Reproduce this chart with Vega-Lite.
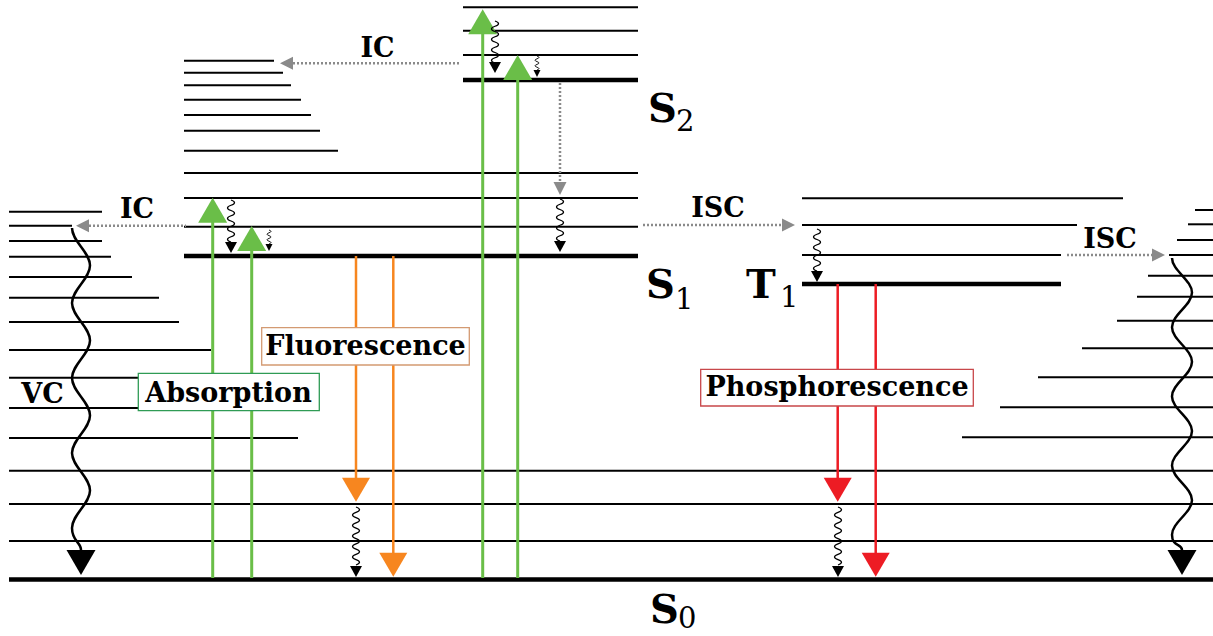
{
  "$schema": "https://vega.github.io/schema/vega-lite/v6.json",
  "width": 1213,
  "height": 636,
  "autosize": {"type": "none"},
  "padding": 0,
  "background": "white",
  "config": {"view": {"stroke": null}},
  "datasets": {
    "thin": [
      {"x": 9, "x2": 102, "y": 211.7}, {"x": 9, "x2": 72, "y": 225.7}, {"x": 9, "x2": 102, "y": 241},
      {"x": 9, "x2": 111, "y": 256.7}, {"x": 9, "x2": 132, "y": 277}, {"x": 9, "x2": 159, "y": 297.7},
      {"x": 9, "x2": 179, "y": 322}, {"x": 9, "x2": 211, "y": 350}, {"x": 9, "x2": 240, "y": 377.7},
      {"x": 9, "x2": 270, "y": 408}, {"x": 9, "x2": 298, "y": 438},
      {"x": 9, "x2": 1213, "y": 470.7}, {"x": 9, "x2": 1213, "y": 504}, {"x": 9, "x2": 1213, "y": 541},
      {"x": 184, "x2": 274, "y": 60.7}, {"x": 184, "x2": 283, "y": 72.7}, {"x": 184, "x2": 291, "y": 85.3},
      {"x": 184, "x2": 301, "y": 99.7}, {"x": 184, "x2": 311, "y": 115}, {"x": 184, "x2": 320, "y": 130.7},
      {"x": 184, "x2": 338, "y": 150.7}, {"x": 184, "x2": 638, "y": 173}, {"x": 184, "x2": 638, "y": 198},
      {"x": 184, "x2": 638, "y": 226.7},
      {"x": 463, "x2": 638, "y": 7.3}, {"x": 463, "x2": 638, "y": 30.7}, {"x": 463, "x2": 638, "y": 55},
      {"x": 802, "x2": 1123, "y": 198.3}, {"x": 802, "x2": 1077, "y": 225}, {"x": 802, "x2": 1061, "y": 255},
      {"x": 1195, "x2": 1213, "y": 210}, {"x": 1188, "x2": 1213, "y": 224.3}, {"x": 1177, "x2": 1213, "y": 240},
      {"x": 1169, "x2": 1213, "y": 255}, {"x": 1148, "x2": 1213, "y": 275.7}, {"x": 1137, "x2": 1213, "y": 296.7},
      {"x": 1117, "x2": 1213, "y": 320.7}, {"x": 1082, "x2": 1213, "y": 348.3}, {"x": 1038, "x2": 1213, "y": 377.3},
      {"x": 1000, "x2": 1213, "y": 407.3}, {"x": 962, "x2": 1213, "y": 437.3}
    ],
    "thick": [
      {"x": 9, "x2": 1213, "y": 579.5}, {"x": 184, "x2": 638, "y": 256},
      {"x": 463, "x2": 638, "y": 80}, {"x": 802, "x2": 1061, "y": 284}
    ],
    "dottedH": [
      {"x": 293, "x2": 460, "y": 63.3}, {"x": 89, "x2": 186, "y": 225.7},
      {"x": 643, "x2": 782, "y": 225}, {"x": 1067, "x2": 1152, "y": 255}
    ],
    "dottedV": [{"x": 560, "y": 83, "y2": 182}],
    "green": [
      {"x": 212.7, "y": 578, "y2": 221}, {"x": 251.7, "y": 578, "y2": 250},
      {"x": 482.7, "y": 578, "y2": 33}, {"x": 517.7, "y": 578, "y2": 79}
    ],
    "orange": [{"x": 356, "y": 256, "y2": 479}, {"x": 393.3, "y": 256, "y2": 553}],
    "red": [{"x": 837.7, "y": 284, "y2": 480}, {"x": 875.7, "y": 284, "y2": 553}],
    "greenTips": [{"x": 212.7, "y": 197.7}, {"x": 251.7, "y": 226}, {"x": 482.7, "y": 9.3}, {"x": 517.7, "y": 55}],
    "orangeTips": [{"x": 356, "y": 501.7}, {"x": 393.3, "y": 576.7}],
    "redTips": [{"x": 837.7, "y": 501.7}, {"x": 875.7, "y": 576.7}],
    "bigTips": [{"x": 81, "y": 575}, {"x": 1182, "y": 575}],
    "smallTips": [{"x": 231, "y": 253}, {"x": 495, "y": 73}, {"x": 560, "y": 252}, {"x": 817, "y": 282}, {"x": 356, "y": 577}, {"x": 838, "y": 577}],
    "tinyTips": [{"x": 269, "y": 251}, {"x": 537, "y": 77}],
    "grayLeft": [{"x": 280, "y": 63.3}, {"x": 76, "y": 225.7}],
    "grayRight": [{"x": 795, "y": 225}, {"x": 1165, "y": 255}],
    "grayDown": [{"x": 560, "y": 195}],
    "vcLeft": [{"x": 81, "y": 228}],
    "vcRight": [{"x": 1182, "y": 258}],
    "wave42": [{"x": 231, "y": 200}, {"x": 495, "y": 21}, {"x": 560, "y": 199}, {"x": 817, "y": 229}],
    "wave58": [{"x": 356, "y": 507}, {"x": 838, "y": 507}],
    "wave14": [{"x": 269, "y": 230}, {"x": 537, "y": 56}],
    "boxes": [
      {"process": "Absorption", "x": 138.3, "x2": 319.3, "y": 373.3, "y2": 410.7},
      {"process": "Fluorescence", "x": 261.7, "x2": 469.3, "y": 327.7, "y2": 365},
      {"process": "Phosphorescence", "x": 700.7, "x2": 973.3, "y": 369.3, "y2": 406}
    ],
    "boxLabels": [
      {"label": "Absorption", "x": 228.5, "y": 402},
      {"label": "Fluorescence", "x": 365.5, "y": 355},
      {"label": "Phosphorescence", "x": 837, "y": 396}
    ],
    "procLabels": [
      {"label": "IC", "x": 377.5, "y": 57}, {"label": "IC", "x": 137, "y": 218},
      {"label": "ISC", "x": 718, "y": 217}, {"label": "ISC", "x": 1110, "y": 248},
      {"label": "VC", "x": 42.5, "y": 403}
    ],
    "states": [
      {"label": "S", "x": 648, "y": 122}, {"label": "S", "x": 646, "y": 298},
      {"label": "T", "x": 746, "y": 298}, {"label": "S", "x": 650, "y": 623}
    ],
    "subs": [
      {"label": "2", "x": 676, "y": 131}, {"label": "1", "x": 675, "y": 309},
      {"label": "1", "x": 780, "y": 307}, {"label": "0", "x": 678, "y": 628}
    ]
  },
  "layer": [
    {
      "data": {"name": "thin"},
      "mark": {"type": "rule", "color": "black", "strokeWidth": 2},
      "encoding": {
        "x": {"field": "x", "type": "quantitative", "scale": {"domain": [0, 1213], "nice": false, "zero": false}, "axis": null},
        "x2": {"field": "x2"},
        "y": {"field": "y", "type": "quantitative", "scale": {"domain": [0, 636], "nice": false, "zero": false, "reverse": true}, "axis": null}
      }
    },
    {
      "data": {"name": "thick"},
      "mark": {"type": "rule", "color": "black", "strokeWidth": 4.5},
      "encoding": {
        "x": {"field": "x", "type": "quantitative", "scale": {"domain": [0, 1213], "nice": false, "zero": false}, "axis": null},
        "x2": {"field": "x2"},
        "y": {"field": "y", "type": "quantitative", "scale": {"domain": [0, 636], "nice": false, "zero": false, "reverse": true}, "axis": null}
      }
    },
    {
      "data": {"name": "dottedH"},
      "mark": {"type": "rule", "color": "#8a8a8a", "strokeWidth": 2.5, "strokeDash": [2, 2]},
      "encoding": {
        "x": {"field": "x", "type": "quantitative", "scale": {"domain": [0, 1213], "nice": false, "zero": false}, "axis": null},
        "x2": {"field": "x2"},
        "y": {"field": "y", "type": "quantitative", "scale": {"domain": [0, 636], "nice": false, "zero": false, "reverse": true}, "axis": null}
      }
    },
    {
      "data": {"name": "dottedV"},
      "mark": {"type": "rule", "color": "#8a8a8a", "strokeWidth": 2.5, "strokeDash": [2, 2]},
      "encoding": {
        "x": {"field": "x", "type": "quantitative", "scale": {"domain": [0, 1213], "nice": false, "zero": false}, "axis": null},
        "y": {"field": "y", "type": "quantitative", "scale": {"domain": [0, 636], "nice": false, "zero": false, "reverse": true}, "axis": null},
        "y2": {"field": "y2"}
      }
    },
    {
      "data": {"name": "green"},
      "mark": {"type": "rule", "color": "#6abe48", "strokeWidth": 3},
      "encoding": {
        "x": {"field": "x", "type": "quantitative", "scale": {"domain": [0, 1213], "nice": false, "zero": false}, "axis": null},
        "y": {"field": "y", "type": "quantitative", "scale": {"domain": [0, 636], "nice": false, "zero": false, "reverse": true}, "axis": null},
        "y2": {"field": "y2"}
      }
    },
    {
      "data": {"name": "orange"},
      "mark": {"type": "rule", "color": "#f7861f", "strokeWidth": 2.5},
      "encoding": {
        "x": {"field": "x", "type": "quantitative", "scale": {"domain": [0, 1213], "nice": false, "zero": false}, "axis": null},
        "y": {"field": "y", "type": "quantitative", "scale": {"domain": [0, 636], "nice": false, "zero": false, "reverse": true}, "axis": null},
        "y2": {"field": "y2"}
      }
    },
    {
      "data": {"name": "red"},
      "mark": {"type": "rule", "color": "#ed1c24", "strokeWidth": 2.5},
      "encoding": {
        "x": {"field": "x", "type": "quantitative", "scale": {"domain": [0, 1213], "nice": false, "zero": false}, "axis": null},
        "y": {"field": "y", "type": "quantitative", "scale": {"domain": [0, 636], "nice": false, "zero": false, "reverse": true}, "axis": null},
        "y2": {"field": "y2"}
      }
    },
    {
      "data": {"name": "greenTips"},
      "mark": {"type": "point", "shape": "M0,0 L14.5,25 L-14.5,25 Z", "size": 4, "filled": true, "color": "#6abe48", "opacity": 1, "strokeWidth": 0},
      "encoding": {
        "x": {"field": "x", "type": "quantitative", "scale": {"domain": [0, 1213], "nice": false, "zero": false}, "axis": null},
        "y": {"field": "y", "type": "quantitative", "scale": {"domain": [0, 636], "nice": false, "zero": false, "reverse": true}, "axis": null}
      }
    },
    {
      "data": {"name": "orangeTips"},
      "mark": {"type": "point", "shape": "M0,0 L-14,-24 L14,-24 Z", "size": 4, "filled": true, "color": "#f7861f", "opacity": 1, "strokeWidth": 0},
      "encoding": {
        "x": {"field": "x", "type": "quantitative", "scale": {"domain": [0, 1213], "nice": false, "zero": false}, "axis": null},
        "y": {"field": "y", "type": "quantitative", "scale": {"domain": [0, 636], "nice": false, "zero": false, "reverse": true}, "axis": null}
      }
    },
    {
      "data": {"name": "redTips"},
      "mark": {"type": "point", "shape": "M0,0 L-14,-24 L14,-24 Z", "size": 4, "filled": true, "color": "#ed1c24", "opacity": 1, "strokeWidth": 0},
      "encoding": {
        "x": {"field": "x", "type": "quantitative", "scale": {"domain": [0, 1213], "nice": false, "zero": false}, "axis": null},
        "y": {"field": "y", "type": "quantitative", "scale": {"domain": [0, 636], "nice": false, "zero": false, "reverse": true}, "axis": null}
      }
    },
    {
      "data": {"name": "bigTips"},
      "mark": {"type": "point", "shape": "M0,0 L-14.5,-25 L14.5,-25 Z", "size": 4, "filled": true, "color": "black", "opacity": 1, "strokeWidth": 0},
      "encoding": {
        "x": {"field": "x", "type": "quantitative", "scale": {"domain": [0, 1213], "nice": false, "zero": false}, "axis": null},
        "y": {"field": "y", "type": "quantitative", "scale": {"domain": [0, 636], "nice": false, "zero": false, "reverse": true}, "axis": null}
      }
    },
    {
      "data": {"name": "smallTips"},
      "mark": {"type": "point", "shape": "M0,0 L-6,-11 L6,-11 Z", "size": 4, "filled": true, "color": "black", "opacity": 1, "strokeWidth": 0},
      "encoding": {
        "x": {"field": "x", "type": "quantitative", "scale": {"domain": [0, 1213], "nice": false, "zero": false}, "axis": null},
        "y": {"field": "y", "type": "quantitative", "scale": {"domain": [0, 636], "nice": false, "zero": false, "reverse": true}, "axis": null}
      }
    },
    {
      "data": {"name": "tinyTips"},
      "mark": {"type": "point", "shape": "M0,0 L-3.5,-7 L3.5,-7 Z", "size": 4, "filled": true, "color": "black", "opacity": 1, "strokeWidth": 0},
      "encoding": {
        "x": {"field": "x", "type": "quantitative", "scale": {"domain": [0, 1213], "nice": false, "zero": false}, "axis": null},
        "y": {"field": "y", "type": "quantitative", "scale": {"domain": [0, 636], "nice": false, "zero": false, "reverse": true}, "axis": null}
      }
    },
    {
      "data": {"name": "grayLeft"},
      "mark": {"type": "point", "shape": "M0,0 L13,-6.5 L13,6.5 Z", "size": 4, "filled": true, "color": "#8a8a8a", "opacity": 1, "strokeWidth": 0},
      "encoding": {
        "x": {"field": "x", "type": "quantitative", "scale": {"domain": [0, 1213], "nice": false, "zero": false}, "axis": null},
        "y": {"field": "y", "type": "quantitative", "scale": {"domain": [0, 636], "nice": false, "zero": false, "reverse": true}, "axis": null}
      }
    },
    {
      "data": {"name": "grayRight"},
      "mark": {"type": "point", "shape": "M0,0 L-13,-6.5 L-13,6.5 Z", "size": 4, "filled": true, "color": "#8a8a8a", "opacity": 1, "strokeWidth": 0},
      "encoding": {
        "x": {"field": "x", "type": "quantitative", "scale": {"domain": [0, 1213], "nice": false, "zero": false}, "axis": null},
        "y": {"field": "y", "type": "quantitative", "scale": {"domain": [0, 636], "nice": false, "zero": false, "reverse": true}, "axis": null}
      }
    },
    {
      "data": {"name": "grayDown"},
      "mark": {"type": "point", "shape": "M0,0 L-6.5,-13 L6.5,-13 Z", "size": 4, "filled": true, "color": "#8a8a8a", "opacity": 1, "strokeWidth": 0},
      "encoding": {
        "x": {"field": "x", "type": "quantitative", "scale": {"domain": [0, 1213], "nice": false, "zero": false}, "axis": null},
        "y": {"field": "y", "type": "quantitative", "scale": {"domain": [0, 636], "nice": false, "zero": false, "reverse": true}, "axis": null}
      }
    },
    {
      "data": {"name": "vcLeft"},
      "mark": {"type": "point", "shape": "M-9,0 C-9,13.5 9,24 9,37.5 S-9,61.5 -9,75 S9,99 9,112.5 S-9,136.5 -9,150 S9,174 9,187.5 S-9,211.5 -9,225 S9,249 9,262.5 S-9,286.5 -9,300 S0,314 0,322", "size": 4, "filled": false, "color": "black", "strokeWidth": 2.5, "opacity": 1},
      "encoding": {
        "x": {"field": "x", "type": "quantitative", "scale": {"domain": [0, 1213], "nice": false, "zero": false}, "axis": null},
        "y": {"field": "y", "type": "quantitative", "scale": {"domain": [0, 636], "nice": false, "zero": false, "reverse": true}, "axis": null}
      }
    },
    {
      "data": {"name": "vcRight"},
      "mark": {"type": "point", "shape": "M-10,0 C-10,12.5 10,22.1 10,34.6 S-10,56.7 -10,69.2 S10,91.3 10,103.8 S-10,125.9 -10,138.4 S10,160.5 10,173 S-10,195.1 -10,207.6 S10,229.7 10,242.2 S-10,264.3 -10,276.8 S0,285 0,292", "size": 4, "filled": false, "color": "black", "strokeWidth": 2.5, "opacity": 1},
      "encoding": {
        "x": {"field": "x", "type": "quantitative", "scale": {"domain": [0, 1213], "nice": false, "zero": false}, "axis": null},
        "y": {"field": "y", "type": "quantitative", "scale": {"domain": [0, 636], "nice": false, "zero": false, "reverse": true}, "axis": null}
      }
    },
    {
      "data": {"name": "wave42"},
      "mark": {"type": "point", "shape": "M0,0 Q7,2.625 0,5.25 T0,10.5 T0,15.75 T0,21 T0,26.25 T0,31.5 T0,36.75 T0,42", "size": 4, "filled": false, "color": "black", "strokeWidth": 1.3, "opacity": 1},
      "encoding": {
        "x": {"field": "x", "type": "quantitative", "scale": {"domain": [0, 1213], "nice": false, "zero": false}, "axis": null},
        "y": {"field": "y", "type": "quantitative", "scale": {"domain": [0, 636], "nice": false, "zero": false, "reverse": true}, "axis": null}
      }
    },
    {
      "data": {"name": "wave58"},
      "mark": {"type": "point", "shape": "M0,0 Q7,2.636 0,5.273 T0,10.545 T0,15.818 T0,21.091 T0,26.364 T0,31.636 T0,36.909 T0,42.182 T0,47.455 T0,52.727 T0,58", "size": 4, "filled": false, "color": "black", "strokeWidth": 1.3, "opacity": 1},
      "encoding": {
        "x": {"field": "x", "type": "quantitative", "scale": {"domain": [0, 1213], "nice": false, "zero": false}, "axis": null},
        "y": {"field": "y", "type": "quantitative", "scale": {"domain": [0, 636], "nice": false, "zero": false, "reverse": true}, "axis": null}
      }
    },
    {
      "data": {"name": "wave14"},
      "mark": {"type": "point", "shape": "M0,0 Q4,1.4 0,2.8 T0,5.6 T0,8.4 T0,11.2 T0,14", "size": 4, "filled": false, "color": "black", "strokeWidth": 0.9, "opacity": 1},
      "encoding": {
        "x": {"field": "x", "type": "quantitative", "scale": {"domain": [0, 1213], "nice": false, "zero": false}, "axis": null},
        "y": {"field": "y", "type": "quantitative", "scale": {"domain": [0, 636], "nice": false, "zero": false, "reverse": true}, "axis": null}
      }
    },
    {
      "data": {"name": "boxes"},
      "mark": {"type": "rect", "fill": "white", "strokeWidth": 1.3},
      "encoding": {
        "x": {"field": "x", "type": "quantitative", "scale": {"domain": [0, 1213], "nice": false, "zero": false}, "axis": null},
        "x2": {"field": "x2"},
        "y": {"field": "y", "type": "quantitative", "scale": {"domain": [0, 636], "nice": false, "zero": false, "reverse": true}, "axis": null},
        "y2": {"field": "y2"},
        "stroke": {"field": "process", "type": "nominal", "scale": {"domain": ["Absorption", "Fluorescence", "Phosphorescence"], "range": ["#2f9b55", "#d39a72", "#c8474a"]}, "legend": null}
      }
    },
    {
      "data": {"name": "boxLabels"},
      "mark": {"type": "text", "font": "DejaVu Serif", "fontWeight": "bold", "fontSize": 27, "align": "center", "baseline": "alphabetic", "color": "black"},
      "encoding": {
        "x": {"field": "x", "type": "quantitative", "scale": {"domain": [0, 1213], "nice": false, "zero": false}, "axis": null},
        "y": {"field": "y", "type": "quantitative", "scale": {"domain": [0, 636], "nice": false, "zero": false, "reverse": true}, "axis": null},
        "text": {"field": "label"}
      }
    },
    {
      "data": {"name": "procLabels"},
      "mark": {"type": "text", "font": "DejaVu Serif", "fontWeight": "bold", "fontSize": 27, "align": "center", "baseline": "alphabetic", "color": "black"},
      "encoding": {
        "x": {"field": "x", "type": "quantitative", "scale": {"domain": [0, 1213], "nice": false, "zero": false}, "axis": null},
        "y": {"field": "y", "type": "quantitative", "scale": {"domain": [0, 636], "nice": false, "zero": false, "reverse": true}, "axis": null},
        "text": {"field": "label"}
      }
    },
    {
      "data": {"name": "states"},
      "mark": {"type": "text", "font": "DejaVu Serif", "fontWeight": "bold", "fontSize": 40, "align": "left", "baseline": "alphabetic", "color": "black"},
      "encoding": {
        "x": {"field": "x", "type": "quantitative", "scale": {"domain": [0, 1213], "nice": false, "zero": false}, "axis": null},
        "y": {"field": "y", "type": "quantitative", "scale": {"domain": [0, 636], "nice": false, "zero": false, "reverse": true}, "axis": null},
        "text": {"field": "label"}
      }
    },
    {
      "data": {"name": "subs"},
      "mark": {"type": "text", "font": "DejaVu Serif", "fontWeight": "normal", "fontSize": 29, "align": "left", "baseline": "alphabetic", "color": "black"},
      "encoding": {
        "x": {"field": "x", "type": "quantitative", "scale": {"domain": [0, 1213], "nice": false, "zero": false}, "axis": null},
        "y": {"field": "y", "type": "quantitative", "scale": {"domain": [0, 636], "nice": false, "zero": false, "reverse": true}, "axis": null},
        "text": {"field": "label"}
      }
    }
  ]
}
